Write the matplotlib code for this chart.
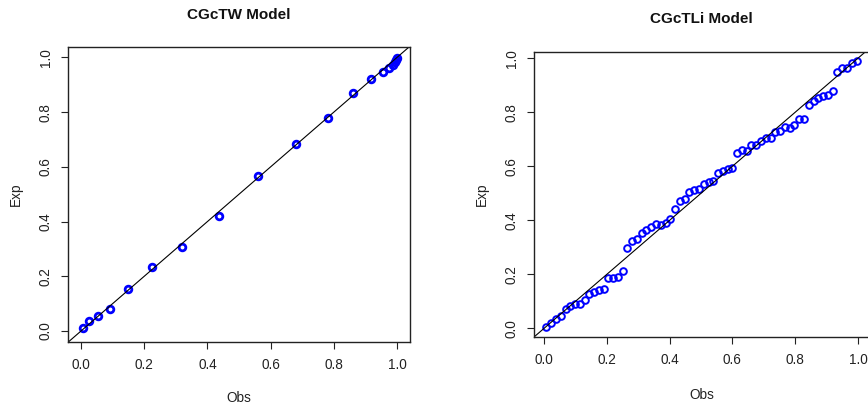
import matplotlib
matplotlib.use("Agg")
import matplotlib.pyplot as plt

plt.rcParams['font.family'] = ['Liberation Sans', 'DejaVu Sans']

# ---- data: CGcTW Model ----
tw_obs = [0.007, 0.024, 0.053, 0.093, 0.148, 0.224, 0.321, 0.436, 0.560, 0.679,
          0.782, 0.862, 0.918, 0.954, 0.976, 0.988, 0.994, 0.998, 0.9995]
tw_exp = [0.012, 0.037, 0.055, 0.080, 0.153, 0.235, 0.306, 0.420, 0.566, 0.682,
          0.778, 0.870, 0.922, 0.948, 0.962, 0.974, 0.984, 0.991, 0.996]

# ---- data: CGcTLi Model ----
li_obs = [0.007, 0.023, 0.038, 0.054, 0.069, 0.084, 0.099, 0.114, 0.130, 0.144,
          0.159, 0.174, 0.190, 0.204, 0.220, 0.235, 0.251, 0.265, 0.280, 0.295,
          0.311, 0.326, 0.341, 0.357, 0.372, 0.387, 0.402, 0.417, 0.433, 0.448,
          0.463, 0.479, 0.494, 0.508, 0.524, 0.539, 0.554, 0.570, 0.585, 0.600,
          0.615, 0.631, 0.645, 0.660, 0.676, 0.691, 0.706, 0.722, 0.737, 0.752,
          0.768, 0.782, 0.797, 0.813, 0.828, 0.843, 0.859, 0.874, 0.889, 0.904,
          0.919, 0.934, 0.949, 0.966, 0.981, 0.996]
li_exp = [0.005, 0.021, 0.033, 0.047, 0.070, 0.084, 0.091, 0.089, 0.104, 0.126,
          0.135, 0.142, 0.146, 0.185, 0.185, 0.191, 0.211, 0.296, 0.323, 0.332,
          0.354, 0.364, 0.377, 0.386, 0.384, 0.390, 0.405, 0.442, 0.473, 0.478,
          0.504, 0.512, 0.517, 0.535, 0.543, 0.547, 0.574, 0.583, 0.588, 0.593,
          0.649, 0.660, 0.657, 0.677, 0.677, 0.695, 0.706, 0.706, 0.728, 0.732,
          0.744, 0.743, 0.751, 0.774, 0.774, 0.827, 0.840, 0.852, 0.860, 0.865,
          0.877, 0.949, 0.963, 0.965, 0.981, 0.988]

ticks = [0.0, 0.2, 0.4, 0.6, 0.8, 1.0]
tick_labels = ["0.0", "0.2", "0.4", "0.6", "0.8", "1.0"]

W, H = 868, 408
fig = plt.figure(figsize=(W / 100, H / 100), dpi=100)


def panel(rect_px, xlim, ylim, x, y, title, mew, title_off, xlab_off):
    l, t, r, b = rect_px
    ax = fig.add_axes([l / W, (H - b) / H, (r - l) / W, (b - t) / H])
    ax.plot(x, y, linestyle='none', marker='o', markersize=4.8,
            markerfacecolor='none', markeredgecolor='#0000ff', markeredgewidth=mew)
    ax.axline((0, 0), slope=1, color='black', linewidth=0.8)
    ax.set_xlim(*xlim)
    ax.set_ylim(*ylim)
    ax.set_xticks(ticks)
    ax.set_xticklabels(tick_labels)
    ax.set_yticks(ticks)
    ax.set_yticklabels(tick_labels, rotation=90, va='center')
    ax.tick_params(direction='out', length=5, width=0.8, labelsize=9.8,
                   colors='#222222', labelcolor='#222222')
    ax.tick_params(axis='x', pad=6.5)
    ax.tick_params(axis='y', pad=6)
    for s in ax.spines.values():
        s.set_linewidth(1.0)
        s.set_color('#222222')
    ax.set_xlabel("Obs", fontsize=9.8, color='#222222')
    ax.set_ylabel("Exp", fontsize=9.8, color='#222222')
    hgt = b - t
    wid = r - l
    ax.xaxis.set_label_coords(0.5, -xlab_off / hgt)
    ax.yaxis.set_label_coords(-45 / wid, 0.5)
    ax.text(0.5, 1 + title_off / hgt, title, transform=ax.transAxes,
            ha='center', va='center', fontsize=11, fontweight='bold',
            color='#111111')
    return ax


panel((68, 47, 410, 342), (-0.041, 1.041), (-0.040, 1.038),
      tw_obs, tw_exp, "CGcTW Model", 2.0, 32, 49)
panel((534, 51.7, 869, 337), (-0.032, 1.035), (-0.032, 1.024),
      li_obs, li_exp, "CGcTLi Model", 1.4, 33, 51)

fig.savefig("out.png", dpi=100)
